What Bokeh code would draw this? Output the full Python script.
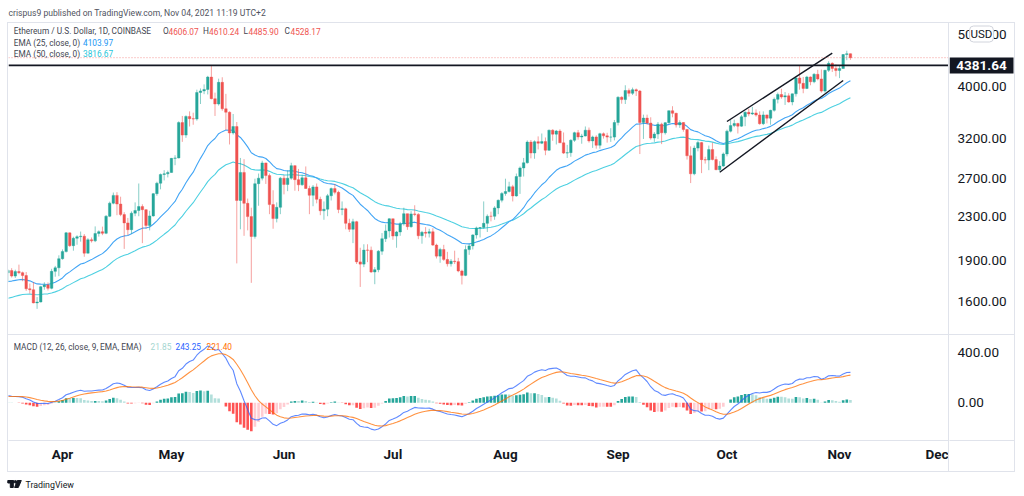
import math
import pandas as pd
from bokeh.plotting import figure
from bokeh.layouts import column, row
from bokeh.models import (ColumnDataSource, Range1d, FixedTicker, LinearAxis,
                          Span, Label)
from bokeh.core.properties import value
from bokeh.embed import file_html
from bokeh.resources import INLINE

# ======================= DATA =======================
first_day = "2021-03-17"
first_open = 1806.0

closes = [
    # Mar 17-31
    1823, 1781, 1815, 1807, 1785, 1687, 1680, 1588, 1594, 1702, 1715, 1690, 1817, 1845, 1918,
    # Apr
    1977, 2142, 2028, 2093, 2107, 2112, 1964, 2080, 2070, 2136, 2153, 2138, 2299, 2432, 2514,
    2423, 2316, 2235, 2171, 2330, 2357, 2397, 2365, 2211, 2303, 2533, 2648, 2749, 2757, 2772,
    # May
    2945, 2950, 3431, 3253, 3522, 3490, 3484, 3902, 3929, 3953, 4168, 3800, 3715, 4075, 3640,
    3587, 3282, 3374, 2460, 2773, 2430, 2296, 2109, 2643, 2706, 2888, 2736, 2417, 2277, 2389, 2706,
    # Jun
    2634, 2706, 2855, 2689, 2630, 2710, 2589, 2515, 2607, 2472, 2354, 2370, 2510, 2588, 2547,
    2367, 2374, 2231, 2175, 2247, 1892, 1874, 1990, 1989, 1812, 1830, 1981, 2089, 2160, 2275,
    # Jul
    2113, 2150, 2226, 2325, 2199, 2323, 2318, 2116, 2147, 2139, 2152, 2033, 1939, 1995, 1912,
    1877, 1898, 1894, 1820, 1786, 1994, 2026, 2123, 2188, 2191, 2231, 2300, 2299, 2383, 2462, 2534,
    # Aug
    2556, 2609, 2508, 2725, 2827, 2890, 3157, 3013, 3163, 3142, 3164, 3049, 3322, 3266, 3310,
    3147, 3012, 3018, 3182, 3287, 3227, 3240, 3322, 3173, 3227, 3114, 3272, 3243, 3225, 3225, 3433,
    # Sep
    3824, 3786, 3936, 3888, 3950, 3927, 3432, 3498, 3425, 3212, 3267, 3408, 3285, 3430, 3610,
    3570, 3398, 3433, 3332, 2978, 2757, 3077, 3150, 2929, 2924, 3058, 2930, 2806, 2850, 3001,
    # Oct
    3308, 3388, 3418, 3380, 3518, 3586, 3561, 3576, 3544, 3416, 3546, 3497, 3616, 3790, 3869,
    3829, 3847, 3748, 3880, 4152, 4058, 3970, 4170, 4085, 4218, 4135, 3926, 4290, 4420, 4325, 4288,
    # Nov 1-4
    4324, 4590, 4606.07, 4528.17,
]

highs = [
    1833, 1842, 1830, 1870, 1815, 1812, 1725, 1736, 1628, 1708, 1734, 1733, 1837, 1860, 1946,
    1996, 2150, 2145, 2107, 2120, 2154, 2131, 2094, 2100, 2202, 2165, 2200, 2312, 2448, 2545,
    2549, 2500, 2340, 2283, 2348, 2440, 2645, 2420, 2370, 2354, 2540, 2665, 2760, 2800, 2795,
    2950, 2985, 3450, 3530, 3540, 3600, 3580, 3950, 3970, 4040, 4190, 4380, 3900, 4140, 4165,
    3880, 3600, 3560, 3440, 2950, 2935, 2480, 2385, 2700, 2760, 2915, 2890, 2760, 2570, 2440, 2720,
    2740, 2800, 2890, 2860, 2815, 2745, 2845, 2620, 2628, 2645, 2500, 2450, 2530, 2600, 2640,
    2565, 2450, 2385, 2275, 2275, 2255, 2010, 2040, 2040, 2020, 1850, 1990, 2140, 2220, 2280,
    2275, 2160, 2245, 2385, 2325, 2350, 2410, 2330, 2160, 2195, 2180, 2185, 2045, 2010, 2035,
    1975, 1915, 1985, 1925, 1830, 2030, 2045, 2130, 2200, 2195, 2450, 2318, 2345, 2400, 2470, 2550,
    2700, 2665, 2630, 2760, 2845, 2950, 3180, 3185, 3180, 3235, 3275, 3220, 3330, 3335, 3325,
    3335, 3290, 3120, 3195, 3300, 3325, 3270, 3375, 3360, 3245, 3250, 3285, 3290, 3285, 3350, 3470,
    3840, 3840, 4025, 3970, 3985, 3970, 3945, 3550, 3550, 3510, 3295, 3440, 3430, 3440, 3615,
    3680, 3580, 3465, 3440, 3340, 3100, 3110, 3175, 3160, 2965, 3110, 3150, 2970, 2910, 3020,
    3330, 3470, 3475, 3430, 3545, 3600, 3640, 3670, 3630, 3600, 3600, 3550, 3625, 3820, 3900,
    3965, 3910, 3890, 3885, 4180, 4375, 4170, 4190, 4180, 4240, 4300, 4305, 4300, 4460, 4440, 4400,
    4380, 4600, 4665, 4610.24,
]

lows = [
    1734, 1770, 1767, 1795, 1742, 1672, 1653, 1585, 1548, 1591, 1680, 1675, 1683, 1776, 1780,
    1910, 1970, 2017, 1985, 2036, 2063, 1934, 1962, 2055, 2059, 2108, 2121, 2130, 2291, 2420,
    2310, 2300, 2000, 2120, 2132, 2300, 2300, 2050, 2180, 2165, 2295, 2510, 2580, 2680, 2715,
    2770, 2860, 2945, 3160, 3215, 3375, 3400, 3460, 3715, 3875, 3870, 3790, 3530, 3690, 3610,
    3325, 3125, 3260, 1880, 2175, 2115, 2165, 1730, 2090, 2405, 2680, 2640, 2320, 2180, 2240, 2320,
    2525, 2560, 2688, 2565, 2560, 2620, 2585, 2320, 2400, 2430, 2310, 2265, 2300, 2460, 2525,
    2330, 2310, 2175, 2150, 2050, 1875, 1700, 1850, 1890, 1805, 1720, 1810, 1950, 2060, 2100,
    2080, 2010, 2115, 2210, 2170, 2190, 2300, 2085, 2045, 2100, 2100, 2025, 1920, 1885, 1900,
    1855, 1855, 1875, 1810, 1718, 1780, 1950, 1995, 2090, 2100, 2180, 2150, 2250, 2265, 2320, 2440,
    2510, 2545, 2450, 2500, 2530, 2725, 2880, 2945, 2940, 3060, 3130, 2985, 3040, 3175, 3125,
    3145, 3000, 2950, 2965, 3160, 3190, 3135, 3235, 3150, 3080, 3070, 3070, 3205, 3150, 3160, 3180,
    3390, 3720, 3715, 3835, 3860, 3845, 3000, 3200, 3400, 3190, 3160, 3200, 3130, 3260, 3420,
    3510, 3360, 3355, 3300, 2930, 2650, 2740, 3035, 2765, 2880, 2800, 2920, 2800, 2790, 2840,
    2970, 3290, 3365, 3275, 3370, 3380, 3525, 3545, 3520, 3400, 3395, 3420, 3400, 3595, 3725,
    3800, 3700, 3735, 3695, 3835, 3950, 3890, 3960, 4025, 4060, 4110, 3900, 3900, 4260, 4260, 4180,
    4150, 4320, 4480, 4485.90,
]

# indicator states just before the first visible candle
ema25_start, ema50_start = 1733.0, 1611.0
ema12_start, ema26_start, signal_start = 1780.0, 1722.0, 49.0

price_ticks = [1600, 1900, 2300, 2700, 3200, 4000, 5000]
macd_ticks = [0, 400]
month_ticks = ["2021-04-01", "2021-05-01", "2021-06-01", "2021-07-01", "2021-08-01",
               "2021-09-01", "2021-10-01", "2021-11-01", "2021-12-01"]
month_labels = ["Apr", "May", "Jun", "Jul", "Aug", "Sep", "Oct", "Nov", "Dec"]

resistance_level = 4381.64
last_price = 4528.17
channel_upper_dates = ["2021-10-01", "2021-10-30"]
channel_upper_prices = [3447, 4616]
channel_lower_dates = ["2021-09-29", "2021-11-02"]
channel_lower_prices = [2776, 4107]

header_text = "crispus9 published on TradingView.com, Nov 04, 2021 11:19 UTC+2"
symbol_text = "Ethereum / U.S. Dollar, 1D, COINBASE"
ohlc_letters = ["O", "H", "L", "C"]
ohlc_values = ["4606.07", "4610.24", "4485.90", "4528.17"]
ema_names = ["EMA (25, close, 0)", "EMA (50, close, 0)"]
ema_values = ["4103.97", "3816.67"]
macd_name = "MACD (12, 26, close, 9, EMA, EMA)"
macd_values = ["21.85", "243.25", "221.40"]
currency = "USD"

# ======================= STYLE / LAYOUT =======================
FONT = "Roboto"
UP, DOWN = "#26a69a", "#ef5350"
EMA25_C, EMA50_C = "#42a5f5", "#4dd0e1"
MACD_C, SIGNAL_C = "#2962ff", "#ff6d00"
H_UP_STRONG, H_UP_WEAK, H_DN_STRONG, H_DN_WEAK = "#26a69a", "#b2dfdb", "#ff5252", "#ffcdd2"
BORDER = "#e0e3eb"
TXT = "#131722"
LEG = "#434651"
LEG_SIZE = "8.3px"
AX_SIZE = "13.5px"

PANE_W, AXIS_W = 940, 66                 # price pane / price-scale column widths
HEADER_H, P1_H, P2_FRAME_H, TIME_AX_H, FOOTER_H = 22, 311, 105, 31, 24
FRAME_L, FRAME_R = 8, 948                # screen x of the pane frames
P1_TOP, P1_BOTTOM = 23, 334              # screen y of price pane
P2_TOP, P2_BOTTOM = 335, 440             # screen y of MACD pane
LABEL_X = 8                              # scale labels: px from separator

DAY = 86400000.0


def ms(s):
    return pd.Timestamp(s).value / 1e6


# calibration of the reference picture (screen pixel -> data)
APR1 = ms("2021-04-01")
def t_at(px):
    return APR1 + (px - 62.0) / 3.631 * DAY

def price_at(py):
    return 5000.0 * math.exp((34.0 - py) / 234.0)

def macd_at(py):
    return (402.3 - py) * 8.0


# ======================= derived series =======================
n = len(closes)
assert len(highs) == n and len(lows) == n
dates = pd.date_range(first_day, periods=n, freq="D")
t = [ms(d) for d in dates]
opens = [first_open] + closes[:-1]


def ema(vals, span, start):
    a = 2.0 / (span + 1)
    out, e = [], start
    for v in vals:
        e = a * v + (1 - a) * e
        out.append(e)
    return out


ema25 = ema(closes, 25, ema25_start)
ema50 = ema(closes, 50, ema50_start)
e12 = ema(closes, 12, ema12_start)
e26 = ema(closes, 26, ema26_start)
macd = [a - b for a, b in zip(e12, e26)]
signal = ema(macd, 9, signal_start)
hist = [m - s for m, s in zip(macd, signal)]
hcol = []
for i, h in enumerate(hist):
    prev = hist[i - 1] if i > 0 else (ema12_start - ema26_start - signal_start)
    if h >= 0:
        hcol.append(H_UP_STRONG if h > prev else H_UP_WEAK)
    else:
        hcol.append(H_DN_STRONG if h < prev else H_DN_WEAK)

ccol = [UP if c >= o else DOWN for o, c in zip(opens, closes)]
src = ColumnDataSource(dict(
    t=t, o=opens, h=highs, l=lows, c=closes, col=ccol,
    top=[max(o, c) for o, c in zip(opens, closes)],
    bot=[min(o, c) for o, c in zip(opens, closes)],
    ema25=ema25, ema50=ema50, macd=macd, signal=signal, hist=hist, hcol=hcol,
))


def leg(p, px, py, text, color, yfun):
    p.add_layout(Label(x=t_at(px), y=yfun(py), text=text, text_color=color,
                       text_font=FONT, text_font_size=LEG_SIZE,
                       text_baseline="middle", text_align="left"))


def bare(p):
    p.grid.visible = False
    return p


def scale_column(y_range, y_type, height, bottom, ticks):
    pa = figure(width=AXIS_W, height=height, x_range=Range1d(0, AXIS_W), y_range=y_range,
                y_axis_type=y_type, x_axis_location=None, y_axis_location=None,
                toolbar_location=None, output_backend="svg",
                min_border_left=0, min_border_right=0, min_border_top=0,
                min_border_bottom=bottom, outline_line_color=None,
                styles={"border-left": "1px solid " + BORDER})
    bare(pa)
    pa.text(x=[LABEL_X] * len(ticks), y=ticks, text=["%.2f" % v for v in ticks],
            text_font=value(FONT), text_font_size=value(AX_SIZE), text_color=TXT,
            text_baseline="middle", text_align="left")
    return pa


# ======================= header =======================
ph = bare(figure(width=1024, height=HEADER_H, x_range=Range1d(0, 1024),
                 y_range=Range1d(HEADER_H, 0), toolbar_location=None, output_backend="svg",
                 x_axis_location=None, y_axis_location=None, min_border=0,
                 outline_line_color=None))
ph.add_layout(Label(x=8, y=12, text=header_text, text_color="#50535e", text_font=FONT,
                    text_font_size="8.6px", text_baseline="middle"))

# ======================= price pane =======================
x_range = Range1d(t_at(FRAME_L), t_at(FRAME_R))
price_range = Range1d(price_at(P1_BOTTOM), price_at(P1_TOP))
p1 = bare(figure(width=PANE_W, height=P1_H, x_range=x_range, y_range=price_range,
                 x_axis_type="datetime", y_axis_type="log",
                 x_axis_location=None, y_axis_location=None,
                 toolbar_location=None, output_backend="svg",
                 min_border=0, outline_line_color=None))

p1.add_layout(Span(location=last_price, dimension="width", line_color=DOWN,
                   line_alpha=0.6, line_dash="1 2", line_width=1))
p1.add_layout(Span(location=resistance_level, dimension="width", line_color=TXT,
                   line_width=1.6))

p1.line("t", "ema50", source=src, color=EMA50_C, line_width=1.1)
p1.line("t", "ema25", source=src, color=EMA25_C, line_width=1.1)
p1.segment(x0="t", y0="h", x1="t", y1="l", source=src, color="col", line_alpha=0.55, line_width=1)
p1.vbar(x="t", top="top", bottom="bot", width=0.7 * DAY, source=src,
        fill_color="col", line_color="col", line_width=0.4)

p1.line([ms(d) for d in channel_upper_dates], channel_upper_prices, color=TXT, line_width=1.4)
p1.line([ms(d) for d in channel_lower_dates], channel_lower_prices, color=TXT, line_width=1.4)

leg(p1, 13.3, 30.5, symbol_text, LEG, price_at)
for letter, val, lx, vx in zip(ohlc_letters, ohlc_values, [162.5, 202.5, 243, 284],
                               [168, 208.5, 248, 290]):
    leg(p1, lx, 30.5, letter, LEG, price_at)
    leg(p1, vx, 30.5, val, DOWN, price_at)
for name, val, py, col in zip(ema_names, ema_values, [42, 53], ["#2196f3", "#26c6da"]):
    leg(p1, 13.3, py, name, LEG, price_at)
    leg(p1, 82.5, py, val, col, price_at)

# price scale column
p1a = scale_column(price_range, "log", P1_H, 0, price_ticks)
p1a.rect(x=[32], y=[resistance_level], width=64, height=16, height_units="screen",
         fill_color=TXT, line_color=None)
p1a.text(x=[32], y=[resistance_level], text=["%.2f" % resistance_level],
         text_font=value(FONT), text_font_size=value(AX_SIZE), text_font_style="bold",
         text_color="white", text_baseline="middle", text_align="center")
p1a.add_layout(Label(x=32, y=price_at(33.5), text=currency, text_color=TXT,
                     text_font=FONT, text_font_size="11.5px",
                     text_baseline="middle", text_align="center",
                     background_fill_color="white", border_line_color="#d1d4dc",
                     border_radius=4, padding=1))

# ======================= MACD pane =======================
macd_range = Range1d(macd_at(P2_BOTTOM), macd_at(P2_TOP))
p2 = bare(figure(width=PANE_W, height=P2_FRAME_H + TIME_AX_H, x_range=x_range,
                 y_range=macd_range, x_axis_type="datetime", x_axis_location="below",
                 y_axis_location=None, toolbar_location=None, output_backend="svg",
                 min_border_left=0, min_border_right=0, min_border_top=0,
                 min_border_bottom=TIME_AX_H, outline_line_color=None))
xa = p2.xaxis[0]
xt = [ms(d) for d in month_ticks]
xa.ticker = FixedTicker(ticks=xt)
xa.major_label_overrides = {k: v for k, v in zip(xt, month_labels)}
xa.major_tick_out = xa.major_tick_in = xa.minor_tick_out = xa.minor_tick_in = 0
xa.axis_line_color = BORDER
xa.major_label_standoff = 5
xa.major_label_text_font = FONT
xa.major_label_text_font_size = AX_SIZE
xa.major_label_text_font_style = "bold"
xa.major_label_text_color = TXT

p2.vbar(x="t", top="hist", bottom=0, width=0.72 * DAY, source=src,
        fill_color="hcol", line_color=None)
p2.line("t", "macd", source=src, color=MACD_C, line_alpha=0.75, line_width=1.1)
p2.line("t", "signal", source=src, color=SIGNAL_C, line_alpha=0.75, line_width=1.1)

leg(p2, 13.3, 346, macd_name, LEG, macd_at)
for val, vx, col in zip(macd_values, [150, 175, 206], ["#a5d6d0", MACD_C, SIGNAL_C]):
    leg(p2, vx, 346, val, col, macd_at)

p2a = scale_column(macd_range, "linear", P2_FRAME_H + TIME_AX_H, TIME_AX_H, macd_ticks)
sep = LinearAxis(ticker=FixedTicker(ticks=[]), axis_line_color=BORDER,
                 major_tick_out=0, major_tick_in=0, minor_tick_out=0, minor_tick_in=0,
                 major_label_text_font_size="0px")
p2a.add_layout(sep, "below")

# ======================= footer =======================
pf = bare(figure(width=1024, height=FOOTER_H, x_range=Range1d(0, 1024),
                 y_range=Range1d(FOOTER_H, 0), toolbar_location=None, output_backend="svg",
                 x_axis_location=None, y_axis_location=None, min_border=0,
                 outline_line_color=None))
pf.quad(left=[7.3, 9.8], right=[12.8, 12.8], top=[8.0, 8.0], bottom=[10.5, 15.0], color=TXT)
pf.circle(x=[14.9], y=[9.3], radius=1.3, color=TXT)
pf.patch([16.8, 20.8, 17.8, 14.1], [8.0, 8.0, 15.0, 15.0], color=TXT)
pf.add_layout(Label(x=25, y=12, text="TradingView", text_color=TXT, text_font=FONT,
                    text_font_size="8.8px", text_baseline="middle"))

row1 = row(p1, p1a, styles={"border-bottom": "1px solid " + BORDER})
row2 = row(p2, p2a)
chart = column(row1, row2, styles={"border": "1px solid " + BORDER}, margin=(0, 0, 0, 7))
layout = column(ph, chart, pf)
open("out.html", "w").write(file_html(layout, INLINE))
